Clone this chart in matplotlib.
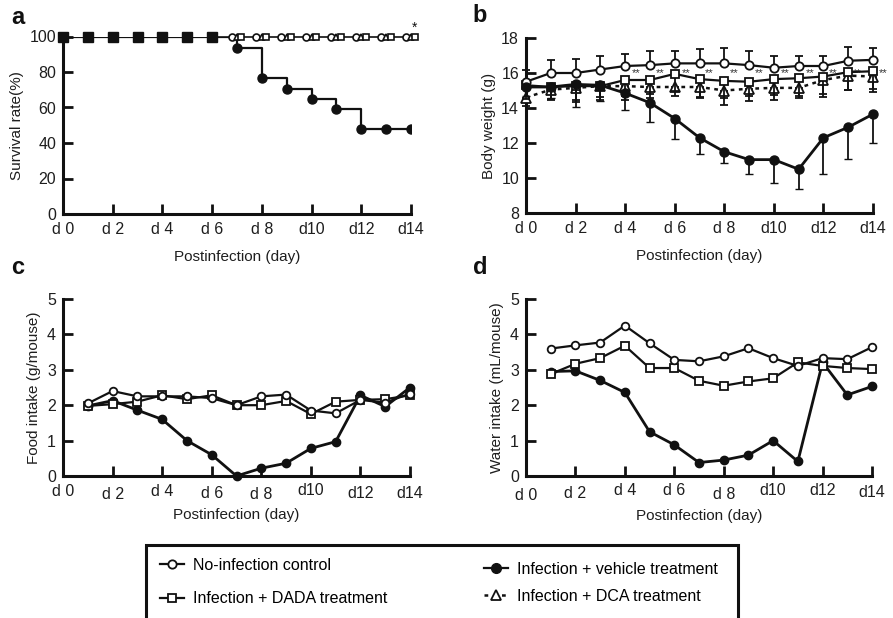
import numpy as np
import matplotlib
matplotlib.use("Agg")
import matplotlib.pyplot as plt
from matplotlib.patches import Rectangle
from matplotlib.lines import Line2D
from matplotlib.transforms import ScaledTranslation

plt.rcParams['font.family'] = ['Liberation Sans', 'DejaVu Sans']

# ---- data ----
days = np.arange(0, 15)
tick_days = [0, 2, 4, 6, 8, 10, 12, 14]
tick_labels = ["d 0", "d 2", "d 4", "d 6", "d 8", "d10", "d12", "d14"]

# a: survival (%)
surv_ctrl = [100] * 15
surv_dada = [100] * 15
surv_dca = [100] * 15
surv_veh = [100, 100, 100, 100, 100, 100, 100, 93.3, 76.9, 70.3, 64.7, 59.2, 47.7, 47.7, 47.7]

# b: body weight (g)
bw_ctrl = [15.5, 16.0, 16.0, 16.2, 16.4, 16.45, 16.55, 16.55, 16.55, 16.45, 16.3, 16.4, 16.4, 16.7, 16.75]
bw_ctrl_sd = [0.7, 0.75, 0.8, 0.8, 0.7, 0.8, 0.7, 0.8, 0.85, 0.8, 0.7, 0.55, 0.55, 0.8, 0.7]
bw_dada = [15.3, 15.2, 15.25, 15.25, 15.6, 15.6, 15.95, 15.65, 15.55, 15.5, 15.65, 15.7, 15.8, 16.05, 16.1]
bw_dada_sd = [0.8, 0.7, 0.8, 0.8, 0.9, 0.8, 1.0, 1.0, 1.0, 0.8, 0.9, 1.0, 1.2, 1.0, 1.0]
bw_dca = [14.6, 15.05, 15.15, 15.25, 15.25, 15.2, 15.2, 15.2, 15.0, 15.1, 15.15, 15.15, 15.6, 15.85, 15.8]
bw_dca_sd = [0.5, 0.6, 0.8, 0.6, 0.8, 0.6, 0.5, 0.6, 0.8, 0.7, 0.7, 0.6, 0.8, 0.8, 0.9]
bw_veh = [15.2, 15.2, 15.35, 15.3, 14.85, 14.3, 13.4, 12.3, 11.5, 11.05, 11.05, 10.5, 12.3, 12.9, 13.65]
bw_veh_sd = [0.5, 0.6, 1.3, 0.9, 0.95, 1.1, 1.2, 0.9, 0.65, 0.85, 1.35, 1.1, 2.05, 1.8, 1.65]
star_days = [4.45, 5.4, 6.45, 7.4, 8.4, 9.4, 10.45, 11.45, 12.4, 13.35, 14.4]

# c: food intake (g/mouse), d1..d14
intake_days = np.arange(1, 15)
food_ctrl = [2.05, 2.4, 2.25, 2.25, 2.25, 2.2, 2.0, 2.25, 2.3, 1.85, 1.77, 2.15, 2.07, 2.33]
food_dada = [1.98, 2.03, 2.1, 2.28, 2.17, 2.28, 2.0, 2.0, 2.12, 1.75, 2.1, 2.15, 2.17, 2.28]
food_veh = [1.98, 2.13, 1.86, 1.6, 1.0, 0.6, 0.0, 0.22, 0.36, 0.78, 0.97, 2.28, 1.96, 2.5]

# d: water intake (mL/mouse), d1..d14
water_ctrl = [3.6, 3.69, 3.77, 4.25, 3.75, 3.28, 3.24, 3.38, 3.61, 3.33, 3.11, 3.33, 3.3, 3.64]
water_dada = [2.88, 3.17, 3.33, 3.68, 3.05, 3.05, 2.69, 2.55, 2.67, 2.76, 3.21, 3.11, 3.05, 3.02]
water_veh = [2.95, 2.97, 2.7, 2.36, 1.25, 0.88, 0.38, 0.45, 0.59, 1.0, 0.41, 3.21, 2.29, 2.53]

legend_labels = ["No-infection control", "Infection + DADA treatment",
                 "Infection + vehicle treatment", "Infection + DCA treatment"]

K = '#111111'
TXT = '#1e1e1e'
LW = 1.6
W, H = 893, 618

fig = plt.figure(figsize=(8.93, 6.18), dpi=100)


def make_ax(l, r, t, b):
    return fig.add_axes([l / W, (H - b) / H, (r - l) / W, (b - t) / H])


def style(ax, ylim, yticks, ylabel, label_dy=None, xpad=9):
    ax.set_xlim(0, 14)
    ax.set_ylim(*ylim)
    ax.set_xticks(tick_days)
    ax.set_xticklabels(tick_labels)
    ax.set_yticks(yticks)
    for s in ['top', 'right']:
        ax.spines[s].set_visible(False)
    for s in ['left', 'bottom']:
        ax.spines[s].set_linewidth(2.2)
        ax.spines[s].set_color(K)
    ax.tick_params(direction='in', length=7, width=2, colors=K, labelsize=11.5,
                   labelcolor=TXT)
    ax.tick_params(axis='x', pad=6)
    ax.tick_params(axis='y', pad=5)
    ax.set_ylabel(ylabel, fontsize=11, color=TXT, labelpad=4)
    ax.set_xlabel("Postinfection (day)", fontsize=11, color=TXT, labelpad=xpad)
    if label_dy is not None:
        for lab, dy in zip(ax.get_xticklabels(), label_dy):
            lab.set_transform(lab.get_transform() +
                              ScaledTranslation(0, -dy / 100, fig.dpi_scale_trans))


# ---- a ----
ax = make_ax(63, 411, 36.5, 214)
style(ax, (0, 100), [0, 20, 40, 60, 80, 100], "Survival rate(%)")
ax.plot(days, surv_veh, color=K, lw=LW, drawstyle='steps-post', zorder=2)
ax.plot(days[7:], surv_veh[7:], 'o', color=K, ms=6.5, zorder=3)
ax.plot(days[:7], surv_veh[:7], 's', color=K, ms=7.5, zorder=4, clip_on=False)
ax.plot(days[6:], surv_ctrl[6:], color=K, lw=1.2, zorder=2, clip_on=False)
ax.plot(days[7:] - 0.22, surv_ctrl[7:], 'o', mfc='white', mec=K, mew=1.2, ms=5, clip_on=False, zorder=5)
ax.plot(days[7:], surv_dca[7:], '^', mfc='white', mec=K, mew=1.2, ms=5, clip_on=False, zorder=5)
ax.plot(days[7:] + 0.18, surv_dada[7:], 's', mfc='white', mec=K, mew=1.2, ms=5, clip_on=False, zorder=5)
ax.text(14.15, 101, "*", fontsize=10, ha='center', va='bottom', color=K)

# ---- b ----
ax = make_ax(526, 873, 38, 213)
style(ax, (8, 18), [8, 10, 12, 14, 16, 18], "Body weight (g)")
z0 = np.zeros(15)
ax.errorbar(days, bw_dca, yerr=[bw_dca_sd, z0], fmt='^--', color=K, lw=1.8,
            dashes=(1.5, 1.8), mfc='white', mec=K, mew=1.3, ms=7, capsize=3, elinewidth=1.3,
            clip_on=False, zorder=3)
ax.errorbar(days, bw_dada, yerr=[bw_dada_sd, z0], fmt='s-', color=K, lw=LW,
            mfc='white', mec=K, mew=1.3, ms=6, capsize=3, elinewidth=1.3, clip_on=False, zorder=4)
ax.errorbar(days, bw_ctrl, yerr=[z0, bw_ctrl_sd], fmt='o-', color=K, lw=LW,
            mfc='white', mec=K, mew=1.3, ms=6, capsize=3, elinewidth=1.3, clip_on=False, zorder=5)
ax.errorbar(days, bw_veh, yerr=[bw_veh_sd, z0], fmt='o-', color=K, lw=2,
            ms=6.5, capsize=3, elinewidth=1.3, clip_on=False, zorder=6)
for sd in star_days:
    ax.text(sd, 15.98, "**", fontsize=8, ha='center', va='center', color='#333333',
            clip_on=False)

# ---- c ----
ax = make_ax(63, 410, 299, 476)
style(ax, (0, 5), [0, 1, 2, 3, 4, 5], "Food intake (g/mouse)",
      label_dy=[0, 3, 0, 2, 3, -1, 2, 2], xpad=4)
ax.plot(intake_days, food_veh, 'o-', color=K, lw=2, ms=6, clip_on=False, zorder=3)
ax.plot(intake_days, food_dada, 's-', color=K, lw=LW, mfc='white', mec=K, mew=1.3, ms=5.5,
        clip_on=False, zorder=4)
ax.plot(intake_days, food_ctrl, 'o-', color=K, lw=LW, mfc='white', mec=K, mew=1.3, ms=5.5,
        clip_on=False, zorder=5)

# ---- d ----
ax = make_ax(526, 872, 299, 476)
style(ax, (0, 5), [0, 1, 2, 3, 4, 5], "Water intake (mL/mouse)",
      label_dy=[4, 2, -1, -1, 3, -1, -1, 1], xpad=4)
ax.plot(intake_days, water_veh, 'o-', color=K, lw=2, ms=6, clip_on=False, zorder=3)
ax.plot(intake_days, water_dada, 's-', color=K, lw=LW, mfc='white', mec=K, mew=1.3, ms=5.5,
        clip_on=False, zorder=4)
ax.plot(intake_days, water_ctrl, 'o-', color=K, lw=LW, mfc='white', mec=K, mew=1.3, ms=5.5,
        clip_on=False, zorder=5)

# ---- panel letters ----
for ch, x, y in [("a", 18, 17), ("b", 480, 15), ("c", 18, 268), ("d", 480, 268)]:
    fig.text(x / W, 1 - y / H, ch, fontsize=17, fontweight='bold', ha='center',
             va='center', color=K)

# ---- legend ----
fig.patches.append(Rectangle((146 / W, -0.02), (738 - 146) / W, (H - 545) / H + 0.02,
                             transform=fig.transFigure, fill=False, ec=K, lw=2.2))
h_ctrl = Line2D([], [], color=K, lw=LW, marker='o', mfc='white', mec=K, mew=1.3, ms=6)
h_dada = Line2D([], [], color=K, lw=LW, marker='s', mfc='white', mec=K, mew=1.3, ms=6)
h_veh = Line2D([], [], color=K, lw=LW, marker='o', ms=7)
h_dca = Line2D([], [], color=K, lw=1.8, ls=(0, (1.5, 2)), marker='^', mfc='white', mec=K,
               mew=1.3, ms=6.5)
fig.legend([h_ctrl, h_dada], legend_labels[:2], loc='upper left',
           bbox_to_anchor=(152 / W, 1 - 550 / H), frameon=False, fontsize=11.5,
           handlelength=1.5, handletextpad=0.55, labelspacing=1.15, borderpad=0)
fig.legend([h_veh, h_dca], legend_labels[2:], loc='upper left',
           bbox_to_anchor=(476 / W, 1 - 554 / H), frameon=False, fontsize=11.5,
           handlelength=1.5, handletextpad=0.55, labelspacing=0.75, borderpad=0)

fig.savefig("out.png", dpi=100)
